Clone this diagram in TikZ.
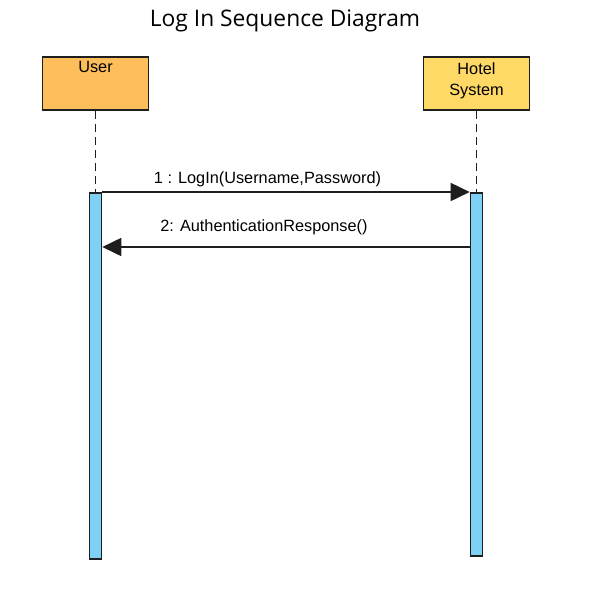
\documentclass[tikz,border=0pt]{standalone}
\usepackage{fontspec}
\setmainfont{Liberation Sans}
\newfontfamily\titlefont{Open Sans}
\usetikzlibrary{arrows.meta, positioning, calc}
\definecolor{seqOrange}{HTML}{FFBE5C}
\definecolor{seqYellow}{HTML}{FFD966}
\definecolor{seqBlue}{HTML}{7FD0F5}
\definecolor{seqDark}{HTML}{1E1E1E}

\begin{document}
\begin{tikzpicture}[x=1pt,y=-1pt,
  actor/.style={draw=seqDark,line width=1.8pt,minimum width=106pt,minimum height=53pt,inner sep=0pt},
  actbar/.style={draw=seqDark,fill=seqBlue,line width=1.6pt,minimum width=12pt,inner sep=0pt,anchor=north},
  life/.style={seqDark,line width=1.5pt,dash pattern=on 8pt off 5pt},
  msg/.style={seqDark,line width=1.7pt,-{Triangle[length=19pt,width=18pt]}},
  lbl/.style={font=\fontsize{16.3}{21}\selectfont,inner sep=0pt,align=center}]
\useasboundingbox (0,0) rectangle (592,598);
\node[font=\titlefont\fontsize{22.8}{25}\selectfont] (title) at (285,21) {Log In Sequence Diagram};

% actors
\node[actor,fill=seqOrange] (user) at (95.5,83.5) {};
\node[actor,fill=seqYellow] (hotel) at (476.5,83.5) {};
\node[lbl,anchor=north] (userlbl) at ([yshift=-5pt]user.north) {User};
\node[lbl,anchor=north] (hotellbl) at ([yshift=-6pt]hotel.north) {Hotel\\System};

% activations
\node[actbar,minimum height=366pt] (uact) at (95.5,192) {};
\node[actbar,minimum height=363pt] (hact) at (476.5,192) {};
\draw[life] (user.south) -- (uact.north);
\draw[life] (hotel.south) -- (hact.north);

% messages
\draw[msg] (uact.north east) -- (hact.north west);
\node[lbl] (m1) at (267.5,179) {1 : LogIn(Username,Password)};
\draw[msg] ([yshift=-55pt]hact.north west) -- ([yshift=-55pt]uact.north east);
\node[lbl] (m2) at (264,227) {2: AuthenticationResponse()};
\end{tikzpicture}
\end{document}
